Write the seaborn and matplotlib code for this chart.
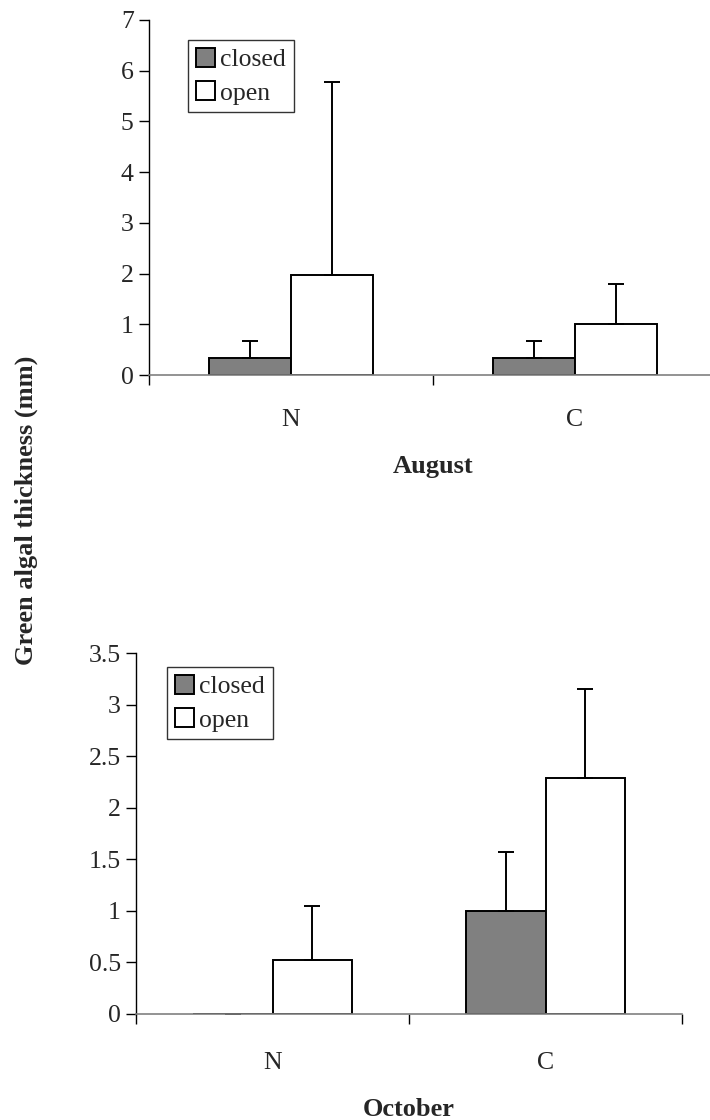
import matplotlib
matplotlib.use("Agg")
import matplotlib.pyplot as plt
import seaborn as sns
import pandas as pd
from matplotlib.ticker import FixedLocator, NullFormatter

sns.set_theme(style="white")
plt.rcParams["font.family"] = ["Liberation Serif", "DejaVu Serif"]
plt.rcParams["font.size"] = 18.5

# Sites and treatments
sites = ["N", "C"]
treatments = ["closed", "open"]

# August: means and upper error lengths
aug_closed = [0.33, 0.33]
aug_open = [1.98, 1.0]
aug_closed_err = [0.34, 0.34]
aug_open_err = [3.8, 0.8]

# October
oct_closed = [0.0, 1.0]
oct_open = [0.52, 2.29]
oct_closed_err = [0.0, 0.57]
oct_open_err = [0.53, 0.86]

palette = {"closed": "#808080", "open": "#ffffff"}
TICK_FS = 18.5
LABEL_FS = 19


def build_frame(closed, opened):
    return pd.DataFrame({
        "site": sites * 2,
        "treatment": ["closed"] * len(sites) + ["open"] * len(sites),
        "value": list(closed) + list(opened),
    })


def draw_panel(ax, closed, opened, cerr, oerr, ymax, ystep, yticklabels,
               xlabel, xpad):
    df = build_frame(closed, opened)
    sns.barplot(data=df, x="site", y="value", hue="treatment",
                order=sites, hue_order=treatments, palette=palette,
                width=0.58, gap=0, edgecolor="black", linewidth=1.4,
                errorbar=None, ax=ax, legend=True)
    # upper-only error bars, one per bar
    errs = {"closed": cerr, "open": oerr}
    for container, t in zip(ax.containers, treatments):
        for patch, e in zip(container.patches, errs[t]):
            xc = patch.get_x() + patch.get_width() / 2
            h = patch.get_height()
            ax.errorbar([xc], [h], yerr=[[0], [e]], fmt="none",
                        ecolor="black", elinewidth=1.4, capsize=6,
                        capthick=1.4)
    ax.set_xlim(-0.5, 1.5)
    ax.set_ylim(0, ymax)
    ax.set_yticks([i * ystep for i in range(len(yticklabels))])
    ax.set_yticklabels(yticklabels)
    ax.xaxis.set_minor_locator(FixedLocator([-0.5, 0.5, 1.5]))
    ax.xaxis.set_minor_formatter(NullFormatter())
    ax.tick_params(axis="x", which="major", length=0, pad=xpad,
                   labelsize=TICK_FS)
    ax.tick_params(axis="x", which="minor", length=7, width=1,
                   color="black", direction="out", bottom=True)
    ax.tick_params(axis="y", length=7, width=1, color="black",
                   direction="out", left=True, labelsize=TICK_FS, pad=4)
    for s in ("top", "right"):
        ax.spines[s].set_visible(False)
    ax.spines["left"].set_color("black")
    ax.spines["left"].set_linewidth(1)
    ax.spines["bottom"].set_color("#808080")
    ax.spines["bottom"].set_linewidth(1.2)
    ax.set_xlabel(xlabel, fontweight="bold", fontsize=LABEL_FS, labelpad=17)
    ax.set_ylabel("")
    leg = ax.legend(loc="upper left", frameon=True, fancybox=False,
                    fontsize=TICK_FS, handlelength=0.75, handleheight=0.75,
                    handletextpad=0.2, labelspacing=0.4,
                    borderpad=0.3, borderaxespad=0)
    leg.get_frame().set_edgecolor("black")
    leg.get_frame().set_linewidth(1)
    for h in leg.legend_handles:
        h.set_edgecolor("black")
        h.set_linewidth(1.4)
    return leg


fig = plt.figure(figsize=(7.1, 11.2), dpi=100)

ax1 = fig.add_axes([149 / 710, 1 - 375 / 1120, 568 / 710, 355 / 1120])
leg1 = draw_panel(ax1, aug_closed, aug_open, aug_closed_err, aug_open_err,
                  7, 1, [str(i) for i in range(8)], "August", 24.5)
leg1.set_bbox_to_anchor((188 / 710, 1 - 40 / 1120), transform=fig.transFigure)

ax2 = fig.add_axes([136 / 710, 1 - 1014 / 1120, 546 / 710, 361 / 1120])
leg2 = draw_panel(ax2, oct_closed, oct_open, oct_closed_err, oct_open_err,
                  3.5, 0.5, ["0", "0.5", "1", "1.5", "2", "2.5", "3", "3.5"],
                  "October", 27.5)
leg2.set_bbox_to_anchor((167 / 710, 1 - 667 / 1120), transform=fig.transFigure)

fig.text(26 / 710, 1 - 510 / 1120, "Green algal thickness (mm)",
         rotation=90, ha="center", va="center", fontweight="bold",
         fontsize=LABEL_FS)

fig.savefig("out.png", dpi=100, facecolor="white")
